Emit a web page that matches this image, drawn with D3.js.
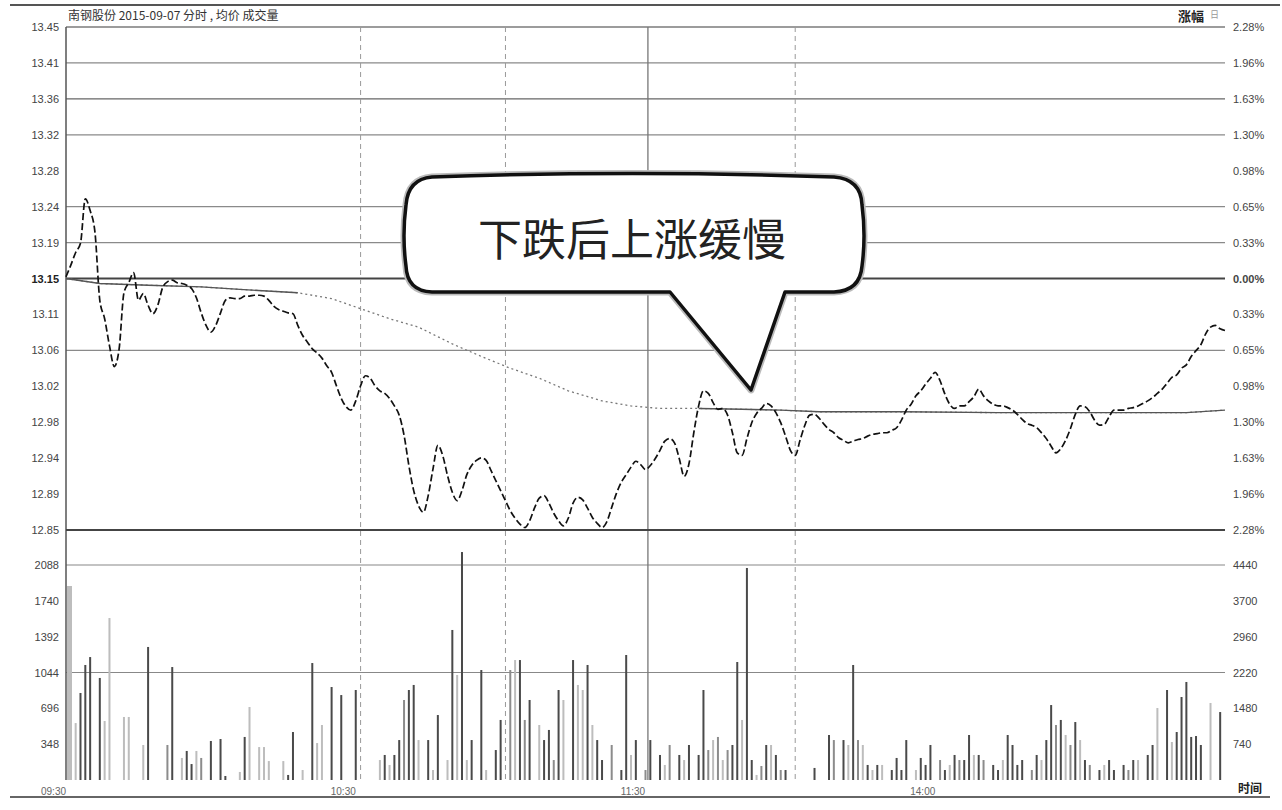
<!DOCTYPE html>
<html><head><meta charset="utf-8">
<script src="https://cdn.jsdelivr.net/npm/d3@7"></script>
<style>body{margin:0;background:#fff}svg{display:block}</style>
</head><body><svg id="c" width="1282" height="810"></svg>
<script>
// ---------------- DATA ----------------
const stockTitle = "南钢股份  2015-09-07  分时 ,  均价  成交量";
const prevClose = 13.15;
const priceHalfRange = 0.30;
const priceTickIdx = [-7,-6,-5,-4,-3,-2,-1,0,1,2,3,4,5,6,7];
const priceGridIdx = [7,6,5,4,2,1,0,-2,-7];

// one value per minute, 09:30 .. 15:00 (241 points)
const priceValues = [
13.152,13.166,13.181,13.192,13.245,13.231,13.205,13.124,13.102,13.070,
13.045,13.066,13.133,13.145,13.157,13.124,13.132,13.118,13.108,13.118,
13.139,13.146,13.148,13.145,13.144,13.142,13.138,13.127,13.109,13.094,
13.086,13.094,13.109,13.124,13.127,13.126,13.126,13.129,13.129,13.130,
13.130,13.129,13.124,13.117,13.113,13.111,13.109,13.108,13.094,13.082,
13.074,13.066,13.061,13.055,13.046,13.038,13.022,13.007,12.997,12.993,
13.004,13.022,13.034,13.031,13.022,13.016,13.013,13.007,12.998,12.987,
12.963,12.927,12.897,12.879,12.871,12.891,12.923,12.951,12.939,12.915,
12.895,12.885,12.897,12.916,12.927,12.933,12.936,12.933,12.921,12.909,
12.897,12.885,12.873,12.864,12.857,12.853,12.861,12.876,12.888,12.891,
12.882,12.870,12.861,12.855,12.864,12.882,12.889,12.886,12.876,12.865,
12.858,12.853,12.860,12.877,12.894,12.907,12.916,12.925,12.932,12.928,
12.922,12.927,12.935,12.945,12.956,12.959,12.954,12.935,12.914,12.929,
12.966,12.998,13.016,13.013,13.002,12.994,12.995,12.987,12.966,12.942,
12.939,12.959,12.978,12.989,12.995,13.001,12.998,12.990,12.978,12.962,
12.945,12.939,12.957,12.975,12.987,12.988,12.983,12.976,12.970,12.966,
12.960,12.957,12.954,12.956,12.958,12.959,12.962,12.964,12.965,12.966,
12.966,12.969,12.972,12.981,12.993,13.000,13.010,13.016,13.024,13.031,
13.038,13.028,13.012,13.000,12.995,12.998,12.998,13.003,13.009,13.018,
13.010,13.004,13.000,12.998,12.998,12.996,12.993,12.988,12.982,12.977,
12.975,12.972,12.966,12.959,12.950,12.942,12.947,12.957,12.971,12.988,
12.998,12.997,12.991,12.981,12.975,12.976,12.985,12.993,12.993,12.993,
12.995,12.996,12.998,13.001,13.004,13.008,13.013,13.018,13.025,13.032,
13.035,13.043,13.047,13.057,13.064,13.071,13.084,13.092,13.094,13.090,
13.088];

const avgMinutes = [0,7,17,28,36,48,55,61,67,73,80,86,92,98,104,111,117,123,131,140,148,156,173,193,214,232,240];
const avgValues  = [13.150,13.144,13.142,13.140,13.137,13.133,13.126,13.114,13.102,13.092,13.072,13.057,13.043,13.031,13.016,13.004,12.998,12.995,12.995,12.994,12.993,12.991,12.991,12.990,12.990,12.990,12.993];
const avgSolidRanges = [[0,48],[125,240]];

const volMinutes = [0,2,3,4,5,7,8,9,12,13,16,17,21,22,24,25,26,27,28,30,32,33,36,37,38,40,41,42,45,46,47,49,51,52,53,55,57,60,
65,66,67,68,69,70,71,72,73,75,76,77,79,80,81,82,83,84,86,87,89,90,92,93,94,95,96,98,99,100,101,102,103,105,106,107,108,109,110,111,113,115,116,117,118,120,
121,123,124,125,127,128,129,131,132,133,134,135,136,137,138,139,140,141,142,143,144,145,146,147,148,149,
155,158,159,161,162,163,164,165,166,167,168,169,171,172,173,174,176,177,178,179,181,182,183,184,185,186,187,188,189,190,192,193,194,195,196,197,198,
200,201,202,203,204,205,206,207,208,209,210,211,212,214,215,216,217,219,220,221,222,224,225,226,228,229,230,231,232,233,234,235,237,239];
const volValues = [1884,553,845,1117,1194,991,573,1573,612,612,340,1292,340,1097,214,282,155,282,214,379,398,39,78,418,709,320,320,184,184,49,466,97,1136,359,534,903,825,874,
194,243,146,243,388,777,874,923,388,388,97,631,194,1457,1020,2214,194,388,1068,97,291,583,1068,1165,1165,583,777,534,388,486,194,874,777,1165,923,874,1117,534,388,194,340,97,1214,243,388,97,
388,243,146,340,243,194,340,243,874,291,388,418,194,291,340,1146,583,2059,194,49,136,340,340,243,97,97,
117,437,388,388,340,1117,388,340,146,97,146,146,97,214,97,388,97,214,146,340,194,97,146,243,194,194,437,243,243,194,146,97,194,437,340,146,194,
97,243,194,388,728,534,583,437,340,563,388,194,146,97,146,194,97,146,97,194,194,243,340,699,874,369,466,806,952,418,427,340,748,660];
// 0 = dark, 1 = mid, 2 = light
const volShade = [2,2,0,0,0,0,2,2,2,2,2,0,1,0,2,0,0,2,1,0,0,0,2,0,2,2,2,2,2,0,0,2,0,2,2,0,0,0,
2,0,2,0,0,1,0,0,2,0,2,0,2,0,2,0,2,0,0,2,0,0,1,2,0,1,0,2,0,0,1,0,2,0,2,2,0,2,0,0,1,0,0,2,0,1,
0,0,2,1,0,2,0,0,0,1,2,1,2,1,0,0,2,0,0,2,1,0,2,0,1,0,
0,0,1,0,2,0,1,2,0,2,0,2,0,0,0,0,2,0,0,0,1,0,2,0,1,0,0,2,0,1,0,0,2,0,0,0,0,
1,0,2,0,0,1,0,2,1,0,2,0,1,0,2,0,0,0,1,0,2,0,0,2,0,2,0,0,0,0,0,0,2,0];

const volTicks = [348,696,1044,1392,1740,2088];
const volTicksRight = [740,1480,2220,2960,3700,4440];
const volGridTicks = [1044,2088];
const timeLabels = ["09:30","10:30","11:30","14:00"];
const timeLabelMinutes = [0,60,120,180];
const vGridMinutes = [61,91,120.5,151];
const vGridSolid = [false,false,true,false];
const calloutText = "下跌后上涨缓慢";

// ---------------- CHART ----------------
const svg = d3.select("#c");
const L = 66, R = 1225, PT = 27, PB = 530, VT = 565, VB = 780;
const x = d3.scaleLinear().domain([0,240]).range([L,R]);
const yP = d3.scaleLinear().domain([prevClose-priceHalfRange, prevClose+priceHalfRange]).range([PB,PT]);
const yV = d3.scaleLinear().domain([0,2088]).range([VB,VT]);
const yV2 = d3.scaleLinear().domain([0,4440]).range([VB,VT]);
const step = priceHalfRange/7;
const priceTicks = priceTickIdx.map(i => prevClose + i*step);
const font = '"Liberation Sans", Arial, sans-serif';

svg.append("rect").attr("width",1282).attr("height",810).attr("fill","#fff");

// frame lines
svg.append("line").attr("x1",10).attr("x2",1280).attr("y1",5).attr("y2",5).attr("stroke","#555").attr("stroke-width",2);
svg.append("line").attr("x1",10).attr("x2",1270).attr("y1",797).attr("y2",797).attr("stroke","#666").attr("stroke-width",2);
svg.append("line").attr("x1",L).attr("x2",R).attr("y1",PT).attr("y2",PT).attr("stroke","#aaa").attr("stroke-width",1.2);

// price grid
svg.append("g").selectAll("line").data(priceGridIdx).join("line")
  .attr("x1",L).attr("x2",R)
  .attr("y1",d=>yP(prevClose+d*step)).attr("y2",d=>yP(prevClose+d*step))
  .attr("stroke",d=> (d===0||d===-7) ? "#444" : (d===5 ? "#666" : "#8a8a8a"))
  .attr("stroke-width",d=> (d===0||d===-7) ? 1.8 : 1.3);

// volume grid
svg.append("g").selectAll("line").data(volGridTicks).join("line")
  .attr("x1",L).attr("x2",R).attr("y1",d=>yV(d)).attr("y2",d=>yV(d))
  .attr("stroke","#888").attr("stroke-width",1.2);

// vertical grid
svg.append("g").selectAll("line").data(vGridMinutes).join("line")
  .attr("x1",d=>x(d)).attr("x2",d=>x(d)).attr("y1",PT).attr("y2",VB)
  .attr("stroke",(d,i)=>vGridSolid[i]?"#777":"#999")
  .attr("stroke-width",(d,i)=>vGridSolid[i]?1.3:1)
  .attr("stroke-dasharray",(d,i)=>vGridSolid[i]?null:"5,4");

// left axis line
svg.append("line").attr("x1",L).attr("x2",L).attr("y1",PT).attr("y2",VB).attr("stroke","#555").attr("stroke-width",1.5);

// volume bars
const bars = volMinutes.map((m,i)=>({m, v:volValues[i], s:volShade[i]}));
const shadeCol = ["#4a4a4a","#8c8c8c","#bdbdbd"];
svg.append("g").selectAll("rect").data(bars).join("rect")
  .attr("x",d=> d.m===0 ? x(d.m)+1 : x(d.m)-1)
  .attr("width",d=> d.m===0 ? 5 : 2)
  .attr("y",d=>yV(d.v)).attr("height",d=>VB-yV(d.v))
  .attr("fill",d=>shadeCol[d.s]);

// average line
const avgPts = avgMinutes.map((m,i)=>({m, v:avgValues[i]}));
const lineA = d3.line().x(d=>x(d.m)).y(d=>yP(d.v));
svg.append("path").attr("d",lineA(avgPts)).attr("fill","none")
  .attr("stroke","#777").attr("stroke-width",1.3).attr("stroke-dasharray","2,3");
avgSolidRanges.forEach(r=>{
  svg.append("path").attr("d",lineA(avgPts.filter(d=>d.m>=r[0]&&d.m<=r[1]))).attr("fill","none")
    .attr("stroke","#555").attr("stroke-width",1.4);
});

// price line
const lineP = d3.line().x((d,i)=>x(i)).y(d=>yP(d)).curve(d3.curveMonotoneX);
svg.append("path").attr("d",lineP(priceValues)).attr("fill","none")
  .attr("stroke","#111").attr("stroke-width",1.7).attr("stroke-dasharray","7,3");

// separator between panels
svg.append("line").attr("x1",L).attr("x2",R).attr("y1",PB).attr("y2",PB).attr("stroke","#444").attr("stroke-width",1.8);

// axes
function styleAxis(g){
  g.select(".domain").remove();
  g.selectAll("line").remove();
  g.selectAll("text").attr("font-family",font).attr("font-size",11).attr("fill","#444");
}
svg.append("g").attr("transform",`translate(${L-4},0)`)
  .call(d3.axisLeft(yP).tickValues(priceTicks).tickSize(0).tickFormat(d3.format(".2f")))
  .call(styleAxis)
  .selectAll("text").attr("font-weight",(d)=>Math.abs(d-prevClose)<1e-6?"bold":"normal").attr("fill",(d)=>Math.abs(d-prevClose)<1e-6?"#222":"#444");
svg.append("g").attr("transform",`translate(${R+5},0)`)
  .call(d3.axisRight(yP).tickValues(priceTicks).tickSize(0)
    .tickFormat(d=>Math.abs((d-prevClose)/prevClose*100).toFixed(2)+"%"))
  .call(styleAxis)
  .selectAll("text").attr("font-weight",(d)=>Math.abs(d-prevClose)<1e-6?"bold":"normal");
svg.append("g").attr("transform",`translate(${L-4},0)`)
  .call(d3.axisLeft(yV).tickValues(volTicks).tickSize(0).tickFormat(d3.format("d")))
  .call(styleAxis);
svg.append("g").attr("transform",`translate(${R+5},0)`)
  .call(d3.axisRight(yV2).tickValues(volTicksRight).tickSize(0).tickFormat(d3.format("d")))
  .call(styleAxis);
const xt = svg.append("g").attr("transform",`translate(0,${VB+5})`)
  .call(d3.axisBottom(x).tickValues(timeLabelMinutes).tickSize(0).tickFormat((d,i)=>timeLabels[i]))
  .call(styleAxis);
xt.selectAll("text").attr("dx",-13).attr("fill","#666").attr("font-size",10);

// header texts
svg.append("text").attr("x",68).attr("y",20).attr("font-family",'"Noto Sans CJK SC", sans-serif')
  .attr("font-size",12).attr("fill","#333").text(stockTitle);
svg.append("text").attr("x",1178).attr("y",21).attr("font-family",'"Noto Sans CJK SC", sans-serif')
  .attr("font-size",13).attr("font-weight","bold").attr("fill","#222").text("涨幅");
svg.append("text").attr("x",1210).attr("y",18).attr("font-family",'"Noto Sans CJK SC", sans-serif')
  .attr("font-size",9).attr("fill","#999").text("日");
svg.append("text").attr("x",1238).attr("y",793).attr("font-family",'"Noto Sans CJK SC", sans-serif')
  .attr("font-size",12).attr("font-weight","bold").attr("fill","#222").text("时间");

// callout bubble
const bubble = d3.path();
bubble.moveTo(432,177);
bubble.quadraticCurveTo(632,170,834,177);
bubble.quadraticCurveTo(861,179,862,205);
bubble.quadraticCurveTo(866,236,862,266);
bubble.quadraticCurveTo(860,291,834,292);
bubble.lineTo(785,292);
bubble.lineTo(751,390);
bubble.lineTo(670,292);
bubble.lineTo(432,292);
bubble.quadraticCurveTo(407,291,406,266);
bubble.quadraticCurveTo(402,236,406,205);
bubble.quadraticCurveTo(408,179,432,177);
bubble.closePath();
svg.append("path").attr("d",bubble.toString()).attr("fill","#fff")
  .attr("stroke","#bbb").attr("stroke-width",7).attr("stroke-linejoin","round");
svg.append("path").attr("d",bubble.toString()).attr("fill","#fff")
  .attr("stroke","#111").attr("stroke-width",3.5).attr("stroke-linejoin","round");
svg.append("text").attr("x",632).attr("y",256).attr("text-anchor","middle")
  .attr("font-family",'"Noto Sans CJK SC", sans-serif').attr("font-size",44)
  .attr("fill","#222").text(calloutText);
</script></body></html>
